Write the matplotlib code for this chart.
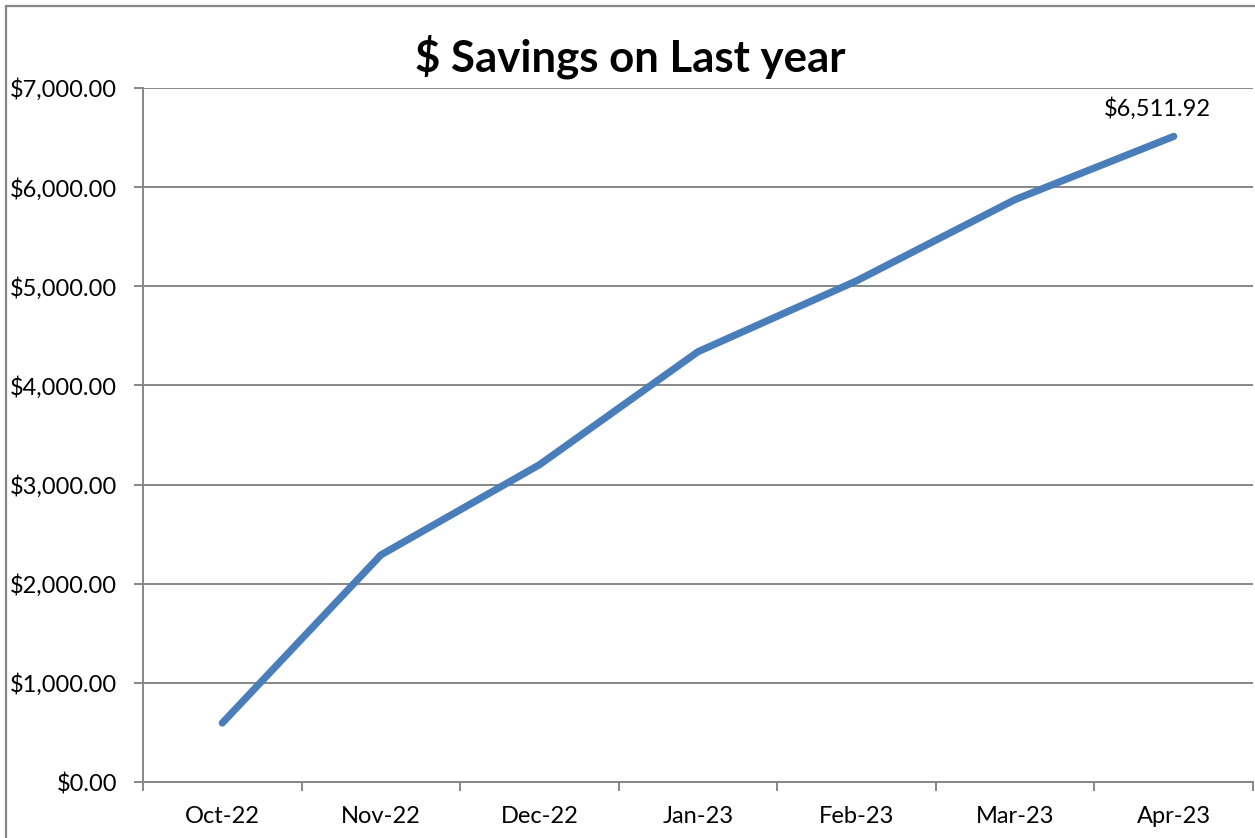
import numpy as np
import matplotlib.pyplot as plt
from matplotlib.patches import Rectangle
from matplotlib.ticker import FuncFormatter, FixedLocator

months = ['Oct-22', 'Nov-22', 'Dec-22', 'Jan-23', 'Feb-23', 'Mar-23', 'Apr-23']
savings = [595, 2290, 3200, 4340, 5055, 5875, 6511.92]
yticks = [0, 1000, 2000, 3000, 4000, 5000, 6000, 7000]

plt.rcParams['font.family'] = ['Lato', 'DejaVu Sans']
W, H = 1255, 838
fig = plt.figure(figsize=(W/100, H/100), dpi=100)
fig.patches.append(Rectangle((6/W, -0.1), 1.1, (H-6)/H + 0.1, transform=fig.transFigure,
                             fill=False, ec='#878787', lw=1.6))
ax = fig.add_axes([143/W, (H-782)/H, 1110/W, 694/H])
x = np.arange(len(months))
ax.plot(x, savings, color='#4A7EBB', lw=5.2, solid_capstyle='round', solid_joinstyle='round', zorder=3)
ax.annotate('${:,.2f}'.format(savings[-1]), (x[-1], savings[-1]), xytext=(-12, 12),
            textcoords='offset points', ha='center', va='bottom', fontsize=17)
ax.set_xlim(-0.5, len(months) - 0.5)
ax.set_ylim(0, 7000)
ax.set_yticks(yticks)
ax.yaxis.set_major_formatter(FuncFormatter(lambda v, p: '${:,.2f}'.format(v)))
ax.set_xticks(x)
ax.set_xticklabels(months)
ax.xaxis.set_minor_locator(FixedLocator(np.arange(-0.5, len(months), 1.0)))
ax.tick_params(axis='x', which='major', length=0, pad=17, labelsize=17)
ax.tick_params(axis='x', which='minor', length=6.5, width=1.4, color='#878787')
ax.tick_params(axis='y', length=6.5, width=1.4, color='#878787', labelsize=17, pad=12)
ax.grid(axis='y', color='#878787', lw=1.4)
ax.set_axisbelow(True)
for s in ['top', 'right']:
    ax.spines[s].set_visible(False)
for s in ['left', 'bottom']:
    ax.spines[s].set_color('#878787')
    ax.spines[s].set_linewidth(1.4)
fig.text(630/W, 1 - 57/H, '$ Savings on Last year', ha='center', va='center',
         fontsize=31.5, fontweight='bold')
fig.savefig('out.png', dpi=100)
